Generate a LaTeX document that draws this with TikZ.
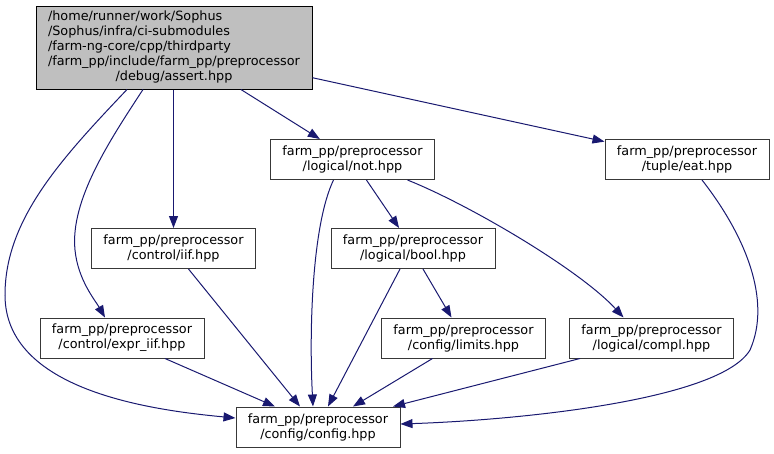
\documentclass[tikz,border=0pt]{standalone}
\usepackage{fontspec}
\setmainfont{DejaVu Sans}
\usepackage{xcolor}
\usepackage{tikz}
\usetikzlibrary{arrows.meta,positioning}
\definecolor{edgeblue}{HTML}{191970}
\definecolor{boxgray}{HTML}{383838}
\definecolor{rootfill}{HTML}{BFBFBF}

\begin{document}
\begin{tikzpicture}[
    x=1pt, y=-1pt,
    box/.style={rectangle, draw=boxgray, line width=1pt, align=center, minimum width=164pt, minimum height=40pt, inner sep=0pt, font=\fontsize{12.8}{15}\selectfont},
    rootbox/.style={box, draw=black, fill=rootfill, minimum width=276pt, minimum height=83pt},
    arrow/.style={-{Triangle[length=12pt,width=9pt]}, edgeblue, line width=1pt}
]
\useasboundingbox (0,0) rectangle (774,453);
\node[rootbox] (assert) at (174,47.5) {\begin{tabular}{@{}l@{}}/home/runner/work/Sophus\\/Sophus/infra/ci-submodules\\/farm-ng-core/cpp/thirdparty\\/farm\_pp/include/farm\_pp/preprocessor\\\multicolumn{1}{@{}c@{}}{/debug/assert.hpp}\end{tabular}};
\node[box] (lnot) at (352.5,159.5) {farm\_pp/preprocessor\\/logical/not.hpp};
\node[box] (teat) at (687,159.5) {farm\_pp/preprocessor\\/tuple/eat.hpp};
\node[box] (ciif) at (173.5,248.5) {farm\_pp/preprocessor\\/control/iif.hpp};
\node[box] (lbool) at (413,248.5) {farm\_pp/preprocessor\\/logical/bool.hpp};
\node[box] (cexpr) at (122,338) {farm\_pp/preprocessor\\/control/expr\_iif.hpp};
\node[box] (climits) at (463.5,338) {farm\_pp/preprocessor\\/config/limits.hpp};
\node[box] (lcompl) at (651.5,338) {farm\_pp/preprocessor\\/logical/compl.hpp};
\node[box] (cconfig) at (318,427) {farm\_pp/preprocessor\\/config/config.hpp};

% from assert.hpp
\draw[arrow] ([xshift=-47pt]assert.south) .. controls (60,160) and (5,220) .. (5,295) .. controls (5,390) and (150,410) .. ([yshift=9pt]cconfig.west);
\draw[arrow] ([xshift=-31pt]assert.south) .. controls (110,140) and (70,200) .. (75,250) .. controls (78,280) and (95,300) .. ([xshift=-17pt]cexpr.north);
\draw[arrow] (assert.south -| ciif.north) -- (ciif.north);
\draw[arrow] (assert) -- (lnot);
\draw[arrow] (assert) -- (teat);

% from not.hpp
\draw[arrow] ([xshift=-19pt]lnot.south) .. controls (312,225) and (309,330) .. ([xshift=-5pt]cconfig.north);
\draw[arrow] (lnot) -- (lbool);
\draw[arrow] ([xshift=55pt]lnot.south) .. controls (470,205) and (580,270) .. ([xshift=-28pt]lcompl.north);

% from bool.hpp
\draw[arrow] ([xshift=-13pt]lbool.south) -- ([xshift=10pt]cconfig.north);
\draw[arrow] ([xshift=10pt]lbool.south) -- ([xshift=-12pt]climits.north);

% into config.hpp
\draw[arrow] ([xshift=15pt]ciif.south) -- ([xshift=-18pt]cconfig.north);
\draw[arrow] ([xshift=43pt]cexpr.south) -- ([xshift=-43pt]cconfig.north);
\draw[arrow] ([xshift=-31pt]climits.south) -- ([xshift=35pt]cconfig.north);
\draw[arrow] ([xshift=-71.5pt]lcompl.south) -- ([xshift=75pt]cconfig.north);
\draw[arrow] ([xshift=15pt]teat.south) .. controls (745,235) and (772,300) .. (750,350) .. controls (720,400) and (520,420) .. ([yshift=3pt]cconfig.east);
\end{tikzpicture}
\end{document}
